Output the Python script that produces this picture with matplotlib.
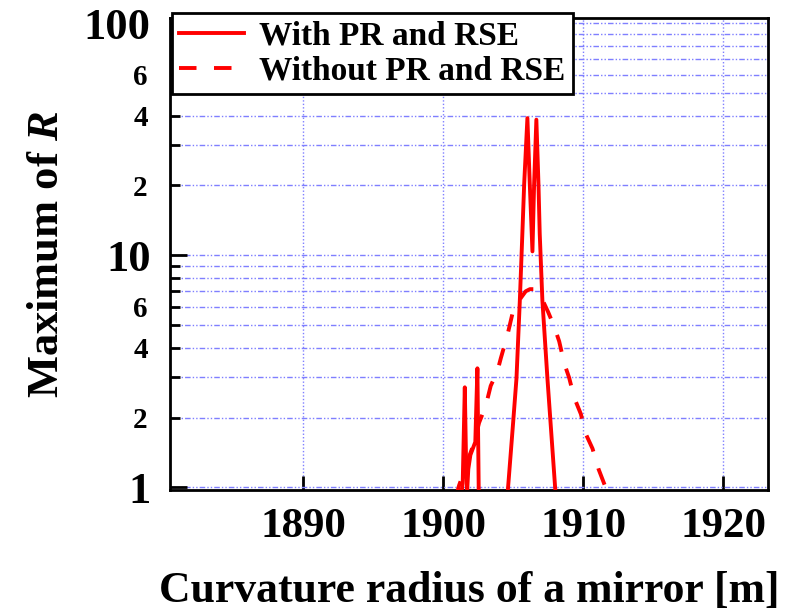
import matplotlib
matplotlib.use("Agg")
import matplotlib.pyplot as plt
from matplotlib.ticker import FixedLocator, FuncFormatter
import numpy as np

plt.rcParams['font.family'] = ['Liberation Serif', 'DejaVu Serif']
plt.rcParams['font.weight'] = 'bold'
plt.rcParams['mathtext.fontset'] = 'custom'
plt.rcParams['mathtext.it'] = 'Liberation Serif:italic:bold'
plt.rcParams['mathtext.rm'] = 'Liberation Serif:bold'

# ---- data ----
x_with = [1901.2, 1901.4, 1901.55, 1901.64, 1901.72, 1901.8, 1901.95, 1902.3, 1902.45,
          1902.55, 1902.7, 1904.3, 1904.64, 1905.0, 1905.24, 1905.48, 1905.66, 1905.79,
          1906.02, 1906.19, 1906.38, 1906.5, 1906.66, 1906.81, 1906.9, 1907.09, 1907.45,
          1908.0, 1908.3]
y_with = [0.85, 1.04, 2.7, 1.3, 0.97, 1.2, 1.38, 1.57, 3.26,
          0.9, 0.5, 0.5, 1.0, 1.9, 2.95, 6.4, 12.4, 20.3,
          39.0, 20.3, 10.4, 20.3, 38.4, 20.3, 12.4, 6.4, 2.95,
          1.0, 0.6]

x_without = [1900.9, 1901.14, 1901.38, 1901.74, 1902.21, 1902.57, 1903.05, 1903.4, 1903.88,
             1904.12, 1904.6, 1904.95, 1905.55, 1905.9, 1906.2, 1906.5, 1906.74, 1907.1,
             1907.5, 1907.93, 1908.29, 1908.64, 1909.0, 1909.36, 1909.84, 1910.19, 1910.67,
             1911.1, 1911.55, 1911.9]
y_without = [0.9, 1.02, 1.12, 1.3, 1.55, 1.9, 2.25, 2.74, 3.17,
             3.6, 4.55, 5.6, 6.55, 7.0, 7.15, 7.15, 6.95, 6.42,
             5.7, 4.94, 4.26, 3.44, 2.97, 2.44, 2.07, 1.7, 1.47,
             1.2, 1.02, 0.9]

label_with = "With PR and RSE"
label_without = "Without PR and RSE"
x_ticks = [1890, 1900, 1910, 1920]
y_major = [1, 10, 100]
y_minor = [2, 3, 4, 5, 6, 7, 8, 9, 20, 30, 40, 50, 60, 70, 80, 90]
y_minor_labeled = [2, 4, 6]

fig = plt.figure(figsize=(8, 6.16), dpi=100)
ax = fig.add_axes([170/800, 1-490/616, (768-170)/800, (490-18)/616])

ax.plot(x_with, y_with, color='#ff0000', lw=2.8, label=label_with, zorder=3)
ax.plot(x_without, y_without, color='#ff0000', lw=2.8, dashes=(4.5, 4.5), label=label_without, zorder=3)

ax.set_yscale('log')
ax.set_xlim(1880.5, 1923.2)
ax.set_ylim(0.975, 105.3)

ax.xaxis.set_major_locator(FixedLocator(x_ticks))
ax.xaxis.set_minor_locator(FixedLocator([]))
ax.yaxis.set_major_locator(FixedLocator(y_major))
ax.yaxis.set_minor_locator(FixedLocator(y_minor))
ax.yaxis.set_major_formatter(FuncFormatter(lambda v, p: f"{int(round(v))}"))

def minor_fmt(v, p):
    m = v / 10 ** np.floor(np.log10(v) + 1e-9)
    m = int(round(m))
    return str(m) if m in y_minor_labeled else ""
ax.yaxis.set_minor_formatter(FuncFormatter(minor_fmt))

ax.tick_params(axis='x', which='major', direction='in', length=10, width=2, labelsize=31, pad=13)
ax.tick_params(axis='y', which='major', direction='in', length=12, width=2, labelsize=32, pad=14)
ax.tick_params(axis='y', which='minor', direction='in', length=7, width=2, labelsize=21, pad=16)

for lbl in ax.get_xticklabels() + ax.get_yticklabels() + ax.get_yticklabels(minor=True):
    lbl.set_fontweight('bold')

ax.grid(True, axis='y', which='both', color='#7f7fff', lw=1.0, dashes=(4, 1.5, 1, 1.5, 1, 1.5))
ax.grid(True, axis='x', which='major', color='#7f7fff', lw=1.0, linestyle=(0, (1, 1.5)))

for s in ax.spines.values():
    s.set_linewidth(2)
    s.set_color('black')

ax.set_xlabel("Curvature radius of a mirror [m]", fontsize=31.5, fontweight='bold', labelpad=18)
ax.set_ylabel("Maximum of $R$", fontsize=32, fontweight='bold', labelpad=12)

leg = ax.legend(loc='upper left', bbox_to_anchor=(172/800, 1-13/616), bbox_transform=fig.transFigure,
                borderaxespad=0, fancybox=False, framealpha=1, edgecolor='black',
                prop={'family': 'Liberation Serif', 'weight': 'bold', 'size': 24},
                handlelength=1.95, handletextpad=0.45, borderpad=0.22, labelspacing=0.12)
leg.get_frame().set_linewidth(2)
leg.set_zorder(10)

fig.savefig("out.png", dpi=100)
